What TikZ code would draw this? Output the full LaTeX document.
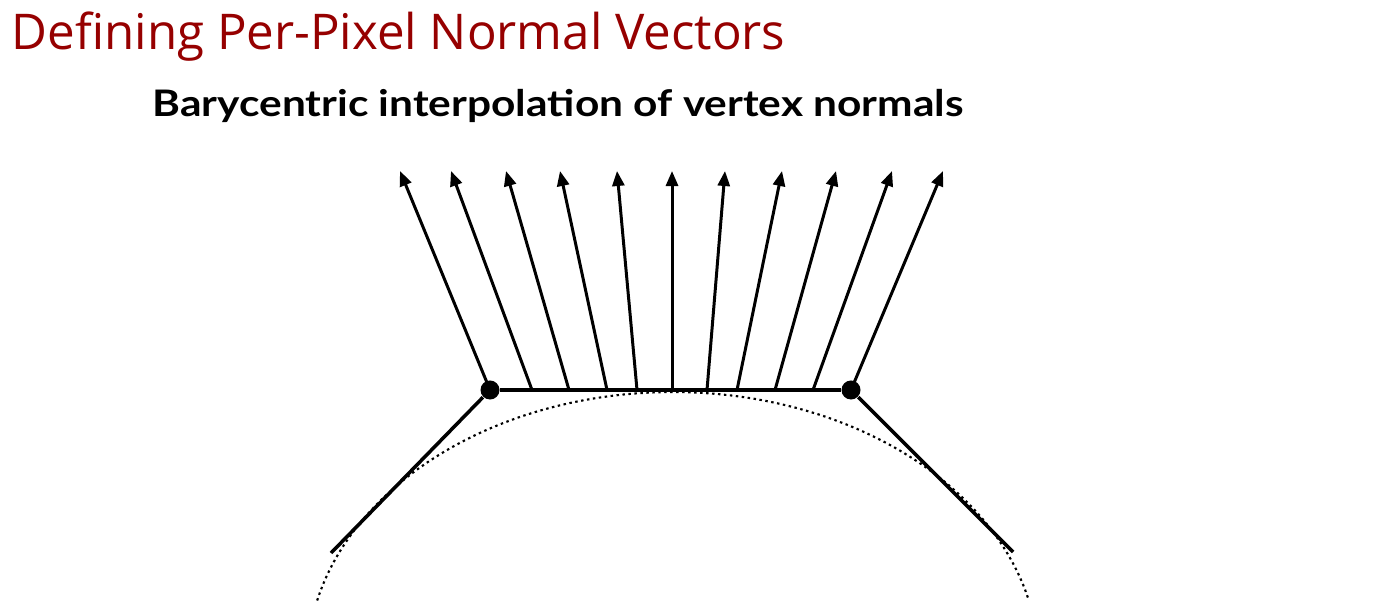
\documentclass[tikz,border=0pt]{standalone}
\usepackage{fontspec}
\usepackage{xcolor}
\usepackage{tikz}
\usetikzlibrary{arrows.meta,positioning,calc}

\newfontfamily\titlefont{Open Sans}
\newfontfamily\subtitlefont{Lato}
\definecolor{titlered}{RGB}{150,0,0}

\begin{document}
\begin{tikzpicture}[x=0.01cm, y=-0.01cm,
    normal/.style={-{Triangle[length=0.15cm, width=0.12cm]}, line width=0.85pt},
    vertex/.style={circle, fill=black, inner sep=0pt, minimum size=0.19cm},
    facet/.style={line width=1pt},
    surface/.style={line width=0.6pt, dash pattern=on 0.7pt off 1pt}
]
\useasboundingbox (0,0) rectangle (1395,610);

\node[anchor=base west, inner sep=0pt, text=titlered, font=\titlefont\fontsize{14pt}{16pt}\selectfont] (title) at (11,50) {Defining Per-Pixel Normal Vectors};
\node[anchor=base west, inner sep=0pt, font=\subtitlefont\addfontfeature{FakeStretch=1.16}\bfseries\fontsize{10.4pt}{12pt}\selectfont] (subtitle) at (152,117) {Barycentric interpolation of vertex normals};

% true surface
\draw[surface] plot[domain=193.5:346.5, samples=90] ({673+366*cos(\x)},{664+272*sin(\x)});

% interpolated normals
\foreach \f/\t [count=\i] in {490/400, 532/451, 569/506, 607/560, 637/617, 672/672, 707/725, 737/782, 775/836, 813/892, 851/943} {
    \coordinate (foot\i) at (\f,390);
    \coordinate (tip\i) at (\t,171);
    \draw[normal] (foot\i) -- (tip\i);
}

\node[vertex] (vleft) at (490,390) {};
\node[vertex] (vright) at (851,390) {};
\coordinate (eleft) at (331,553);
\coordinate (eright) at (1013,552);

\draw[facet] (vleft) -- (vright);
\draw[facet] (vleft) -- (eleft);
\draw[facet] (vright) -- (eright);
\end{tikzpicture}
\end{document}
